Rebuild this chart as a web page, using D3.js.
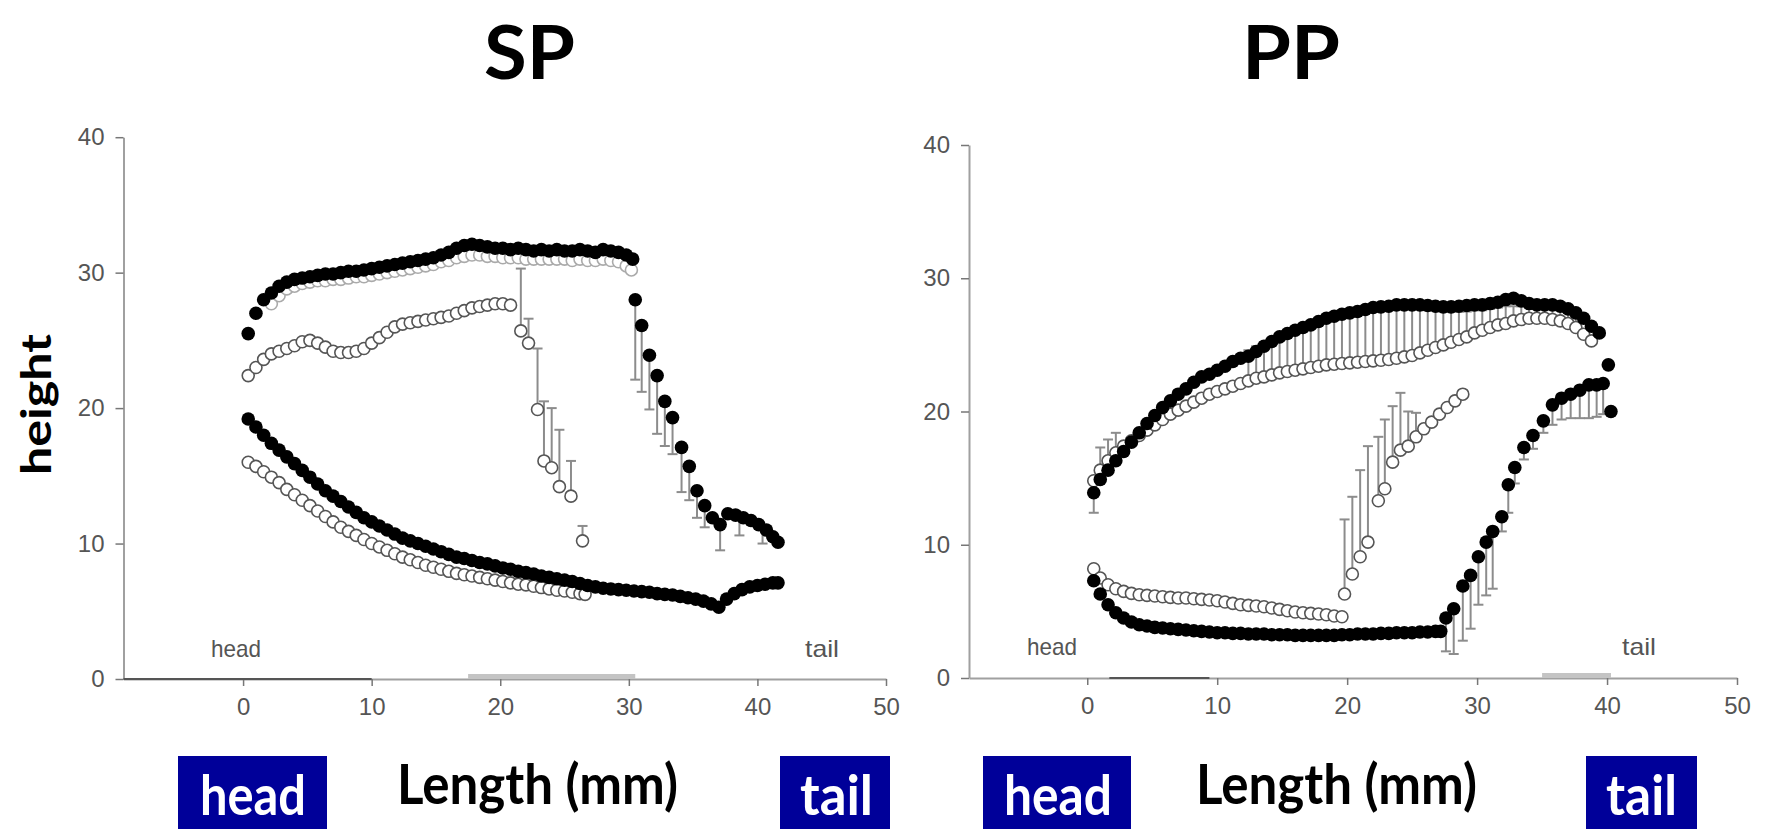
<!DOCTYPE html>
<html>
<head>
<meta charset="utf-8">
<script src="https://cdn.jsdelivr.net/npm/d3@7"></script>
<style>
body { margin: 0; background: #fff; }
svg { display: block; }
</style>
</head>
<body>
<svg id="canvas" width="1765" height="829"></svg>
<script>
// ---------- data (length in mm, height) ----------
let xTicks = [0, 10, 20, 30, 40, 50]
let yTicks = [0, 10, 20, 30, 40]

// SP panel
let spUpperFilled = [[0.4,25.5],[1.0,27.0],[1.6,28.0],[2.2,28.5],[2.8,29.0],[3.4,29.3],[4.0,29.5],[4.6,29.6],[5.2,29.7],[5.8,29.8],[6.4,29.9],[7.0,29.9],[7.6,30.0],[8.2,30.1],[8.8,30.1],[9.4,30.2],[10.0,30.3],[10.6,30.4],[11.2,30.5],[11.8,30.6],[12.4,30.7],[13.0,30.8],[13.6,30.9],[14.2,31.0],[14.8,31.1],[15.4,31.3],[16.0,31.5],[16.6,31.8],[17.2,32.0],[17.8,32.1],[18.4,32.0],[19.0,31.9],[19.6,31.8],[20.2,31.8],[20.8,31.7],[21.4,31.8],[22.0,31.7],[22.6,31.6],[23.2,31.7],[23.8,31.6],[24.4,31.7],[25.0,31.6],[25.6,31.6],[26.2,31.7],[26.8,31.6],[27.4,31.5],[28.0,31.7],[28.6,31.6],[29.2,31.5],[29.8,31.3],[30.3,31.0]]
let spUpperFilledTail = [[30.5,28.0],[31.0,26.1],[31.6,23.9],[32.2,22.4],[32.8,20.5],[33.4,19.3],[34.1,17.1],[34.7,15.7],[35.3,13.9],[35.9,12.8],[36.5,11.9],[37.1,11.4],[37.7,12.2],[38.3,12.1],[38.9,11.9],[39.5,11.7],[40.1,11.4],[40.7,11.0],[41.2,10.5],[41.6,10.1]]
let spUpperShade = [[2.2,27.7],[2.8,28.3],[3.4,28.8],[4.0,29.0],[4.6,29.2],[5.2,29.3],[5.8,29.4],[6.4,29.4],[7.0,29.5],[7.6,29.5],[8.2,29.6],[8.8,29.7],[9.4,29.7],[10.0,29.8],[10.6,29.9],[11.2,30.0],[11.8,30.1],[12.4,30.2],[13.0,30.3],[13.6,30.4],[14.2,30.5],[14.8,30.6],[15.4,30.8],[16.0,30.9],[16.6,31.1],[17.2,31.2],[17.8,31.3],[18.4,31.3],[19.0,31.2],[19.6,31.2],[20.2,31.1],[20.8,31.1],[21.4,31.1],[22.0,31.0],[22.6,31.0],[23.2,31.0],[23.8,31.0],[24.4,31.0],[25.0,31.0],[25.6,30.9],[26.2,31.0],[26.8,30.9],[27.4,30.9],[28.0,31.0],[28.6,30.9],[29.2,30.8],[29.8,30.5],[30.2,30.2]]
let spUpperOpen = [[0.4,22.4],[1.0,23.0],[1.6,23.6],[2.2,24.0],[2.8,24.2],[3.4,24.4],[4.0,24.6],[4.6,24.9],[5.2,25.0],[5.8,24.8],[6.4,24.5],[7.0,24.2],[7.6,24.1],[8.2,24.1],[8.8,24.2],[9.4,24.4],[10.0,24.8],[10.6,25.2],[11.2,25.6],[11.8,26.0],[12.4,26.2],[13.0,26.3],[13.6,26.4],[14.2,26.5],[14.8,26.6],[15.4,26.7],[16.0,26.8],[16.6,27.0],[17.2,27.2],[17.8,27.4],[18.4,27.5],[19.0,27.6],[19.6,27.7],[20.2,27.7],[20.8,27.6],[21.6,25.7],[22.2,24.8],[22.9,19.9],[23.4,16.1],[24.0,15.6],[24.6,14.2],[25.5,13.5],[26.4,10.2]]
let spLowerFilled = [[0.4,19.2],[1.0,18.6],[1.6,18.0],[2.2,17.4],[2.8,16.9],[3.4,16.4],[4.0,15.9],[4.6,15.4],[5.2,14.9],[5.8,14.4],[6.4,13.9],[7.0,13.5],[7.6,13.1],[8.2,12.7],[8.8,12.3],[9.4,11.9],[10.0,11.6],[10.6,11.3],[11.2,11.0],[11.8,10.7],[12.4,10.4],[13.0,10.2],[13.6,10.0],[14.2,9.8],[14.8,9.6],[15.4,9.4],[16.0,9.2],[16.6,9.0],[17.2,8.9],[17.8,8.75],[18.4,8.6],[19.0,8.5],[19.6,8.35],[20.2,8.2],[20.8,8.1],[21.4,7.95],[22.0,7.85],[22.6,7.75],[23.2,7.6],[23.8,7.5],[24.4,7.4],[25.0,7.3],[25.6,7.2],[26.2,7.05],[26.8,6.9],[27.4,6.8],[28.0,6.7],[28.6,6.65],[29.2,6.6],[29.8,6.55],[30.4,6.5],[31.0,6.45],[31.6,6.4],[32.2,6.3],[32.8,6.25],[33.4,6.2],[34.0,6.1],[34.6,6.0],[35.2,5.9],[35.8,5.75],[36.4,5.55],[37.0,5.3],[37.6,5.9],[38.2,6.3],[38.8,6.6],[39.4,6.8],[40.0,6.9],[40.6,7.0],[41.2,7.1],[41.6,7.1]]
let spLowerOpen = [[0.4,16.0],[1.0,15.7],[1.6,15.3],[2.2,14.9],[2.8,14.5],[3.4,14.0],[4.0,13.6],[4.6,13.2],[5.2,12.8],[5.8,12.4],[6.4,12.0],[7.0,11.6],[7.6,11.2],[8.2,10.9],[8.8,10.6],[9.4,10.3],[10.0,10.0],[10.6,9.75],[11.2,9.5],[11.8,9.25],[12.4,9.0],[13.0,8.8],[13.6,8.6],[14.2,8.4],[14.8,8.25],[15.4,8.1],[16.0,7.95],[16.6,7.8],[17.2,7.7],[17.8,7.6],[18.4,7.5],[19.0,7.4],[19.6,7.3],[20.2,7.2],[20.8,7.1],[21.4,7.0],[22.0,6.95],[22.6,6.85],[23.2,6.75],[23.8,6.65],[24.4,6.55],[25.0,6.5],[25.6,6.4],[26.2,6.3],[26.6,6.25]]
// error bars: [length, from, to]
let spErrorBars = [[30.5,28.0,22.1],[31.0,26.1,21.2],[31.6,23.9,19.9],[32.2,22.4,18.1],[32.8,20.5,17.2],[33.4,19.3,16.6],[34.1,17.1,13.8],[34.7,15.7,13.2],[35.3,13.9,11.9],[35.9,12.8,11.2],[37.1,11.4,9.5],[38.6,12.0,10.6],[40.4,11.2,10.0],
  [21.6,25.7,30.3],[22.2,24.8,26.6],[22.9,19.9,24.4],[23.4,16.1,20.5],[24.0,15.6,20.0],[24.6,14.2,18.4],[25.5,13.5,16.1],[26.4,10.2,11.3]]

// PP panel
let ppUpperFilled = [[0.5,13.9],[1.0,14.9],[1.6,15.6],[2.2,16.3],[2.8,17.0],[3.4,17.7],[4.0,18.4],[4.6,19.1],[5.2,19.7],[5.8,20.3],[6.4,20.8],[7.0,21.3],[7.6,21.7],[8.2,22.2],[8.8,22.6],[9.4,22.8],[10.0,23.1],[10.6,23.4],[11.2,23.75],[11.8,24.0],[12.4,24.15],[13.0,24.5],[13.6,24.9],[14.2,25.25],[14.8,25.6],[15.4,25.85],[16.0,26.1],[16.6,26.3],[17.2,26.5],[17.8,26.75],[18.4,27.0],[19.0,27.15],[19.6,27.3],[20.2,27.4],[20.8,27.5],[21.4,27.65],[22.0,27.8],[22.6,27.85],[23.2,27.9],[23.8,28.0],[24.4,28.0],[25.0,28.0],[25.6,28.0],[26.2,27.95],[26.8,27.9],[27.4,27.85],[28.0,27.85],[28.6,27.9],[29.2,27.95],[29.8,28.0],[30.4,28.0],[31.0,28.1],[31.6,28.2],[32.2,28.4],[32.8,28.5],[33.4,28.3],[34.0,28.1],[34.6,28.0],[35.2,28.0],[35.8,28.0],[36.4,27.9],[37.0,27.7],[37.6,27.4],[38.2,27.0],[38.8,26.4],[39.4,25.9],[40.1,23.5]]
let ppUpperOpen = [[0.5,14.8],[1.0,15.6],[1.6,16.3],[2.2,16.9],[2.8,17.4],[3.4,17.8],[4.0,18.2],[4.6,18.6],[5.2,19.0],[5.8,19.4],[6.4,19.8],[7.0,20.1],[7.6,20.4],[8.2,20.7],[8.8,21.0],[9.4,21.3],[10.0,21.5],[10.6,21.7],[11.2,21.9],[11.8,22.1],[12.4,22.3],[13.0,22.5],[13.6,22.6],[14.2,22.75],[14.8,22.9],[15.4,23.0],[16.0,23.1],[16.6,23.2],[17.2,23.3],[17.8,23.4],[18.4,23.5],[19.0,23.55],[19.6,23.6],[20.2,23.65],[20.8,23.7],[21.4,23.75],[22.0,23.8],[22.6,23.85],[23.2,23.9],[23.8,24.0],[24.4,24.1],[25.0,24.2],[25.6,24.4],[26.2,24.6],[26.8,24.8],[27.4,25.0],[28.0,25.2],[28.6,25.4],[29.2,25.6],[29.8,25.9],[30.4,26.1],[31.0,26.3],[31.6,26.5],[32.2,26.6],[32.8,26.8],[33.4,26.9],[34.0,27.0],[34.6,27.0],[35.2,27.0],[35.8,26.9],[36.4,26.8],[37.0,26.6],[37.6,26.3],[38.2,25.8],[38.8,25.3]]
let ppLowerFilled = [[0.5,7.3],[1.0,6.3],[1.6,5.5],[2.2,4.9],[2.8,4.5],[3.4,4.2],[4.0,4.0],[4.6,3.9],[5.2,3.8],[5.8,3.75],[6.4,3.7],[7.0,3.65],[7.6,3.6],[8.2,3.55],[8.8,3.5],[9.4,3.45],[10.0,3.4],[10.6,3.4],[11.2,3.35],[11.8,3.35],[12.4,3.3],[13.0,3.3],[13.6,3.3],[14.2,3.25],[14.8,3.25],[15.4,3.25],[16.0,3.2],[16.6,3.2],[17.2,3.2],[17.8,3.2],[18.4,3.2],[19.0,3.2],[19.6,3.25],[20.2,3.25],[20.8,3.3],[21.4,3.3],[22.0,3.3],[22.6,3.35],[23.2,3.35],[23.8,3.4],[24.4,3.4],[25.0,3.4],[25.6,3.45],[26.2,3.45],[26.8,3.5],[27.2,3.5],
  [27.6,4.5],[28.2,5.2],[28.9,6.9],[29.5,7.7],[30.1,9.1],[30.7,10.2],[31.2,11.0],[31.9,12.1],[32.4,14.5],[32.9,15.8],[33.6,17.3],[34.3,18.2],[35.1,19.3],[35.8,20.5],[36.5,21.0],[37.2,21.3],[37.9,21.6],[38.6,22.0],[39.2,22.0],[39.7,22.1],[40.3,20.0]]
let ppLowerOpen = [[0.5,8.2],[1.0,7.5],[1.6,7.0],[2.2,6.7],[2.8,6.5],[3.4,6.35],[4.0,6.25],[4.6,6.2],[5.2,6.15],[5.8,6.1],[6.4,6.05],[7.0,6.0],[7.6,6.0],[8.2,5.95],[8.8,5.9],[9.4,5.85],[10.0,5.8],[10.6,5.7],[11.2,5.6],[11.8,5.5],[12.4,5.45],[13.0,5.4],[13.6,5.35],[14.2,5.25],[14.8,5.15],[15.4,5.05],[16.0,4.95],[16.6,4.9],[17.2,4.85],[17.8,4.8],[18.4,4.75],[19.0,4.65],[19.6,4.6]]
let ppLowerOpenRise = [[19.8,6.3],[20.4,7.8],[21.0,9.1],[21.6,10.2],[22.4,13.3],[22.9,14.2],[23.5,16.2],[24.1,17.1],[24.7,17.4],[25.3,18.1],[25.9,18.7],[26.5,19.2],[27.1,19.8],[27.7,20.3],[28.3,20.8],[28.9,21.3]]
let ppErrorBars = [[0.5,13.9,12.4],[1.0,15.6,17.3],[1.6,16.3,17.9],[2.2,16.9,18.4],
  [12.4,22.3,24.6],[13.0,22.5,24.9],[13.6,22.6,25.2],[14.2,22.75,25.5],[14.8,22.9,25.7],[15.4,23.0,26.0],[16.0,23.1,26.3],[16.6,23.2,26.5],[17.2,23.3,26.7],[17.8,23.4,26.9],[18.4,23.5,27.0],[19.0,23.55,27.1],[19.6,23.6,27.2],[20.2,23.65,27.3],[20.8,23.7,27.4],[21.4,23.75,27.5],[22.0,23.8,27.6],[22.6,23.85,27.6],[23.2,23.9,27.7],[23.8,24.0,27.7],[24.4,24.1,27.8],[25.0,24.2,27.7],[25.6,24.4,27.7],[26.2,24.6,27.6],[26.8,24.8,27.6],[27.4,25.0,27.5],[28.0,25.2,27.5],[28.6,25.4,27.5],[29.2,25.6,27.5],[29.8,25.9,27.6],[30.4,26.1,27.6],[31.0,26.3,27.7],[31.6,26.5,27.8],[32.2,26.6,27.9],[32.8,26.8,27.9],[33.4,26.9,27.9],[34.0,27.0,27.9],[34.6,27.0,27.8],[35.2,27.0,27.8],[35.8,26.9,27.7],[36.4,26.8,27.6],[37.0,26.6,27.4],[37.6,26.3,27.2],
  [19.8,6.3,11.9],[20.4,7.8,13.6],[21.0,9.1,15.6],[21.6,10.2,17.4],[22.4,13.3,18.1],[22.9,14.2,19.4],[23.5,16.2,20.4],[24.1,17.1,21.4],[24.7,17.4,20.0],[25.3,18.1,19.9],
  [27.6,4.5,2.0],[28.2,5.2,1.8],[28.9,6.9,2.8],[29.5,7.7,3.7],[30.1,9.1,5.5],[30.7,10.2,6.2],[31.2,11.0,6.7],[31.9,12.1,11.0],[32.4,14.5,12.4],[32.9,15.8,14.6],[33.6,17.3,16.4],[34.3,18.2,17.2],[35.1,19.3,18.4],[35.8,20.5,19.0],[36.5,21.0,19.4],[37.2,21.3,19.5],[37.9,21.6,19.5],[38.6,22.0,19.5],[39.2,22.0,19.6],[39.7,22.1,19.8]]

// x-axis shading seen in the picture: [from, to] in mm
let spAxisDark = [-9.3, 10]
let spAxisBand = [17.5, 30.5]
let ppAxisDark = [1.7, 9.4]
let ppAxisBand = [35, 40.3]

// ---------- drawing ----------
let canvas = d3.select("#canvas")
let tickFont = "'Liberation Sans Narrow', 'Liberation Sans', Arial, sans-serif"
let boldFont = "Lato, 'DejaVu Sans', sans-serif"

let drawPanel = (p) => {
    let x = d3.scaleLinear().domain([p.xStart, 50]).range([p.left, p.right])
    let y = d3.scaleLinear().domain([0, 40]).range([p.bottom, p.top])
    let g = canvas.append("g")

    g.append("g")
        .attr("transform", "translate(0," + p.bottom + ")")
        .call(d3.axisBottom(x).tickValues(xTicks).tickSize(7).tickSizeOuter(0).tickPadding(12))
    g.append("g")
        .attr("transform", "translate(" + p.left + ",0)")
        .call(d3.axisLeft(y).tickValues(yTicks).tickSize(8).tickSizeOuter(0).tickPadding(11))

    g.selectAll(".domain").attr("stroke", "#a0a0a0").attr("stroke-width", 2)
    g.selectAll(".tick line").attr("stroke", "#777").attr("stroke-width", 1.5)
    g.selectAll(".tick text")
        .attr("font-family", tickFont)
        .attr("font-size", 24)
        .attr("fill", "#555")

    // shading on the x axis
    g.append("rect")
        .attr("x", x(p.axisBand[0]))
        .attr("width", x(p.axisBand[1]) - x(p.axisBand[0]))
        .attr("y", p.bottom - 5)
        .attr("height", 5)
        .attr("fill", "#c4c4c4")
    g.append("line")
        .attr("x1", x(p.axisDark[0]))
        .attr("x2", x(p.axisDark[1]))
        .attr("y1", p.bottom)
        .attr("y2", p.bottom)
        .attr("stroke", "#555")
        .attr("stroke-width", 2)

    // error bars
    let bars = g.append("g").selectAll("g")
        .data(p.bars)
        .enter()
        .append("g")
        .attr("stroke", "#8c8c8c")
        .attr("stroke-width", 2)
    bars.append("line")
        .attr("x1", (d) => x(d[0]))
        .attr("x2", (d) => x(d[0]))
        .attr("y1", (d) => y(d[1]))
        .attr("y2", (d) => y(d[2]))
    bars.append("line")
        .attr("x1", (d) => x(d[0]) - 5)
        .attr("x2", (d) => x(d[0]) + 5)
        .attr("y1", (d) => y(d[2]))
        .attr("y2", (d) => y(d[2]))

    // open circles first, filled on top
    p.shade.forEach((s) => {
        g.append("g").selectAll("circle")
            .data(s)
            .enter()
            .append("circle")
            .attr("cx", (d) => x(d[0]))
            .attr("cy", (d) => y(d[1]))
            .attr("r", 6)
            .attr("fill", "#fff")
            .attr("stroke", "#aaa")
            .attr("stroke-width", 1.6)
    })
    p.open.forEach((s) => {
        g.append("g").selectAll("circle")
            .data(s)
            .enter()
            .append("circle")
            .attr("cx", (d) => x(d[0]))
            .attr("cy", (d) => y(d[1]))
            .attr("r", 6)
            .attr("fill", "#fff")
            .attr("stroke", "#555")
            .attr("stroke-width", 1.6)
    })
    p.filled.forEach((s) => {
        g.append("g").selectAll("circle")
            .data(s)
            .enter()
            .append("circle")
            .attr("cx", (d) => x(d[0]))
            .attr("cy", (d) => y(d[1]))
            .attr("r", 6.8)
            .attr("fill", "#000")
    })

    // small head / tail notes inside the plot
    g.append("text")
        .attr("x", p.headNoteX).attr("y", p.noteY)
        .attr("font-family", tickFont).attr("font-size", 24).attr("fill", "#555")
        .attr("textLength", 50).attr("lengthAdjust", "spacingAndGlyphs")
        .text("head")
    g.append("text")
        .attr("x", p.tailNoteX).attr("y", p.noteY)
        .attr("font-family", tickFont).attr("font-size", 24).attr("fill", "#555")
        .attr("textLength", 34).attr("lengthAdjust", "spacingAndGlyphs")
        .text("tail")

    // title
    canvas.append("text")
        .attr("x", p.titleX).attr("y", 79)
        .attr("font-family", boldFont).attr("font-weight", "bold").attr("font-size", 75)
        .attr("textLength", p.titleW).attr("lengthAdjust", "spacingAndGlyphs")
        .text(p.title)

    // x label
    canvas.append("text")
        .attr("x", p.labelX).attr("y", 804)
        .attr("font-family", boldFont).attr("font-weight", "bold").attr("font-size", 55)
        .attr("textLength", 281).attr("lengthAdjust", "spacingAndGlyphs")
        .text("Length (mm)")

    // blue head / tail boxes
    p.boxes.forEach((b) => {
        canvas.append("rect")
            .attr("x", b.x).attr("y", 756)
            .attr("width", b.w).attr("height", 73)
            .attr("fill", "#000099")
        canvas.append("text")
            .attr("x", b.tx).attr("y", 815)
            .attr("font-family", boldFont).attr("font-weight", "bold").attr("font-size", 56)
            .attr("fill", "#fff")
            .attr("textLength", b.tw).attr("lengthAdjust", "spacingAndGlyphs")
            .text(b.text)
    })
}

drawPanel({
    xStart: -9.3, left: 123.5, right: 886, top: 137.2, bottom: 679,
    axisDark: spAxisDark, axisBand: spAxisBand,
    bars: spErrorBars,
    shade: [spUpperShade],
    open: [spUpperOpen, spLowerOpen],
    filled: [spUpperFilled, spUpperFilledTail, spLowerFilled],
    headNoteX: 211, tailNoteX: 805, noteY: 657,
    title: "SP", titleX: 484, titleW: 91,
    labelX: 397,
    boxes: [
        {x: 178, w: 149, text: "head", tx: 200, tw: 106},
        {x: 780, w: 110, text: "tail", tx: 800, tw: 73}
    ]
})

drawPanel({
    xStart: -9.1, left: 969, right: 1737, top: 145, bottom: 678,
    axisDark: ppAxisDark, axisBand: ppAxisBand,
    bars: ppErrorBars,
    shade: [],
    open: [ppUpperOpen, ppLowerOpen, ppLowerOpenRise],
    filled: [ppUpperFilled, ppLowerFilled],
    headNoteX: 1027, tailNoteX: 1622, noteY: 655,
    title: "PP", titleX: 1242, titleW: 98,
    labelX: 1196,
    boxes: [
        {x: 983, w: 148, text: "head", tx: 1004, tw: 108},
        {x: 1586, w: 111, text: "tail", tx: 1606, tw: 71}
    ]
})

// shared y label
canvas.append("text")
    .attr("transform", "translate(51,404.5) rotate(-90)")
    .attr("text-anchor", "middle")
    .attr("font-family", boldFont).attr("font-weight", "bold").attr("font-size", 42)
    .attr("textLength", 141).attr("lengthAdjust", "spacingAndGlyphs")
    .text("height")
</script>
</body>
</html>
